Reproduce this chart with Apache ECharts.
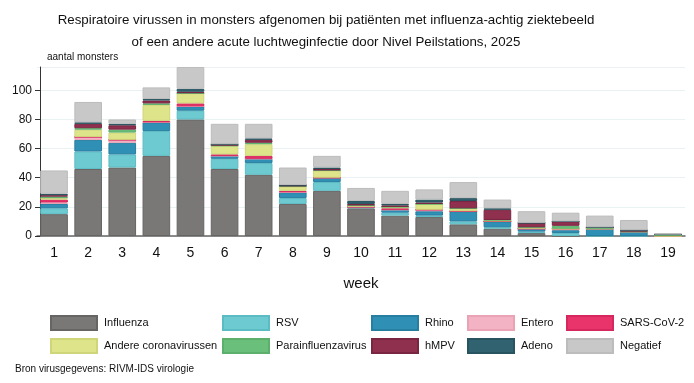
<!DOCTYPE html>
<html><head><meta charset="utf-8">
<script src="https://cdn.jsdelivr.net/npm/echarts@6/dist/echarts.min.js"></script>
<style>html,body{margin:0;padding:0;background:#fff}#c{width:694px;height:383px}</style>
</head><body><div id="c"></div>
<script>
const weeks = ['1','2','3','4','5','6','7','8','9','10','11','12','13','14','15','16','17','18','19'];
const influenza = [15,46,47,55,80,46,42,22,31,19,14,13,8,5,2,0,0,0,0];
const rsv       = [4,12,9,17,6,7,8,4,6,1,2,1,2,1,1,2,0,0,0];
const rhino     = [3,8,8,6,3,2,3,4,3,0,2,3,7,4,2,2,5,3,0];
const entero    = [1,2,2,0,0,0,0,0,0,0,0,1,0,0,0,1,0,0,0];
const sars      = [2,0,0,1,2,1,2,1,0,0,1,0,0,0,0,0,0,0,0];
const andere    = [1,5,5,11,7,6,8,3,5,1,1,4,2,1,1,0,0,0,0];
const para      = [1,1,2,1,0,0,1,0,0,0,0,0,0,0,0,2,1,0,1];
const hmpv      = [1,3,3,2,1,1,2,1,1,1,1,1,5,7,3,3,0,1,0];
const adeno     = [1,1,1,1,2,0,1,0,1,2,1,2,2,1,0,0,0,0,0];
const negatief  = [16,14,3,8,15,14,10,12,8,9,9,7,11,6,8,6,8,7,1];
const yTicks = [0,20,40,60,80,100];

const FONT = '"Liberation Sans", Arial, sans-serif';
const seriesDefs = [
  ['Influenza', influenza, '#7a7876', '#676563'],
  ['RSV', rsv, '#6ecad1', '#5cbcc4'],
  ['Rhino', rhino, '#308fb5', '#267ea1'],
  ['Entero', entero, '#f4b3c4', '#eaa2b5'],
  ['SARS-CoV-2', sars, '#e8336b', '#d6285e'],
  ['Andere coronavirussen', andere, '#dde48a', '#cfd67a'],
  ['Parainfluenzavirus', para, '#6abf7a', '#5cb06c'],
  ['hMPV', hmpv, '#8e304e', '#7a2541'],
  ['Adeno', adeno, '#31626f', '#28545f'],
  ['Negatief', negatief, '#c8c8c8', '#bcbcbc']
];
const legendPos = [
  [50,315],[222,315],[371,315],[467,315],[566,315],
  [50,338],[222,338],[371,338],[467,338],[566,338]
];
const chart = echarts.init(document.getElementById('c'), null, {renderer:'canvas'});
chart.setOption({
  animation:false,
  textStyle:{fontFamily:FONT},
  title:[
    {text:'Respiratoire virussen in monsters afgenomen bij patiënten met influenza-achtig ziektebeeld\nof een andere acute luchtweginfectie door Nivel Peilstations, 2025',
     left:321, top:4, textAlign:'center',
     textStyle:{fontSize:13.3, fontWeight:'normal', color:'#111', lineHeight:22, fontFamily:FONT}},
    {text:'aantal monsters', left:42, top:47, textStyle:{fontSize:10, fontWeight:'normal', color:'#111', fontFamily:FONT}},
    {text:'Bron virusgegevens: RIVM-IDS virologie', left:10, top:359, textStyle:{fontSize:10, fontWeight:'normal', color:'#111', fontFamily:FONT}}
  ],
  legend: seriesDefs.map((d,i)=>({
    data:[{name:d[0], icon:'rect'}], left:legendPos[i][0], top:legendPos[i][1], itemWidth:46, itemHeight:14, itemGap:0,
    padding:0, selectedMode:false,
    textStyle:{fontSize:11, color:'#111', padding:[0,0,0,2], fontFamily:FONT}
  })),
  grid:{left:37, right:9, top:67, bottom:147},
  xAxis:{
    type:'category', data:weeks,
    name:'week', nameLocation:'middle', nameGap:40,
    nameTextStyle:{fontSize:15, color:'#111', fontFamily:FONT},
    axisLine:{lineStyle:{color:'#666', width:1.5}},
    axisTick:{alignWithLabel:true, length:5, lineStyle:{color:'#444'}},
    axisLabel:{fontSize:14, color:'#111', margin:10, fontFamily:FONT}
  },
  yAxis:{
    type:'value', min:0, max:116, interval:20, offset:-3,
    axisLine:{show:true, lineStyle:{color:'#333'}},
    axisTick:{show:true, length:5, lineStyle:{color:'#333'}},
    axisLabel:{fontSize:12, color:'#111', margin:8, showMaxLabel:false, fontFamily:FONT,
      formatter:v=> yTicks.includes(v) ? String(v) : ''},
    splitLine:{lineStyle:{color:'#e9f1f2'}}
  },
  series: seriesDefs.map(d=>({
    name:d[0], type:'bar', stack:'t', data:d[1], barCategoryGap:'19%',
    itemStyle:{color:d[2], borderColor:d[3], borderWidth:1},
    emphasis:{disabled:true}
  }))
});
</script></body></html>
